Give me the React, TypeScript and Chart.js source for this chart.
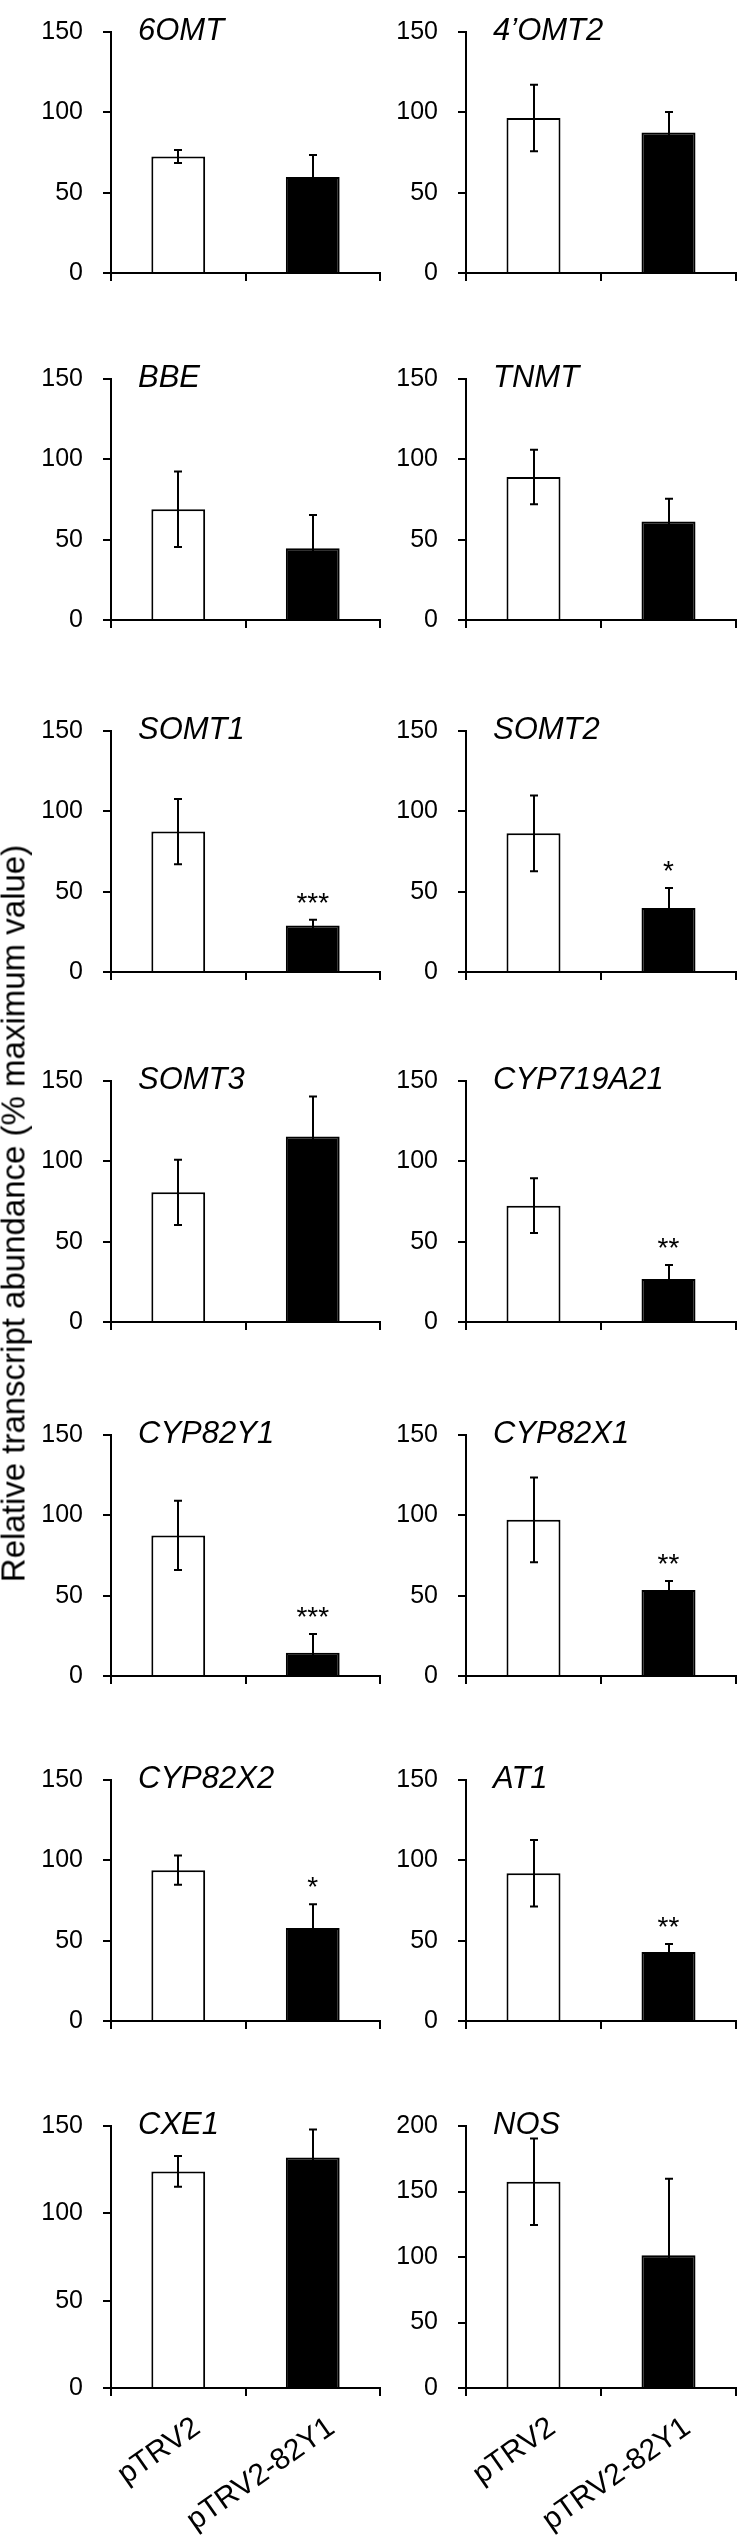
import React, { useEffect, useRef } from 'react';
import { Chart, registerables } from 'chart.js';

Chart.register(...registerables);

// ---- data ----
const genes = ['6OMT', '4\u2019OMT2', 'BBE', 'TNMT', 'SOMT1', 'SOMT2', 'SOMT3', 'CYP719A21', 'CYP82Y1', 'CYP82X1', 'CYP82X2', 'AT1', 'CXE1', 'NOS'];
const treatments = ['pTRV2', 'pTRV2-82Y1'];
const controlMeans = [72.5, 96.5, 69, 89, 87.4, 86.3, 80.7, 72.4, 87.5, 97.2, 93.9, 92, 124, 157.4];
const controlErrors = [4, 20.7, 23.5, 17, 20.3, 23.6, 20.3, 17, 21.6, 26.4, 9.1, 20.7, 8.8, 33];
const silencedMeans = [59.8, 87.5, 44.7, 61.3, 28.9, 39.9, 115.5, 26.7, 14.5, 53.5, 57.9, 43, 132, 101.3];
const silencedErrors = [13.6, 12.7, 20.7, 14.2, 3.6, 12.4, 24.9, 8.7, 11.7, 5.6, 14.8, 5, 16, 58.5];
const significance = ['', '', '', '', '***', '*', '', '**', '***', '**', '*', '**', '', ''];
const axisMax = [150, 150, 150, 150, 150, 150, 150, 150, 150, 150, 150, 150, 150, 200];
const axisStep = 50;
const yAxisTitle = 'Relative transcript abundance (% maximum value)';

// ---- layout ----
const FONT = '"Liberation Sans", Arial, Helvetica, sans-serif';
const PAGE_W = 742;
const PAGE_H = 2546;
const ROW_TOPS = [17, 364, 716, 1066, 1420, 1765, 2111];
const PLOT_H = 277;
const PAD_TOP = 20;
const COLS = [
  { left: 0, width: 390, yAxisW: 111, padRight: 10 },
  { left: 390, width: 352, yAxisW: 76, padRight: 6 },
];

function Panel({ index }: { index: number }) {
  const ref = useRef<HTMLCanvasElement>(null);
  const row = Math.floor(index / 2);
  const col = COLS[index % 2];
  const last = row === ROW_TOPS.length - 1;
  const xH = last ? PAGE_H - (ROW_TOPS[row] + PLOT_H) : 14;
  const H = PAD_TOP + PLOT_H + xH;
  const top = ROW_TOPS[row] - PAD_TOP;

  useEffect(() => {
    if (!ref.current) return;
    const extras = {
      id: 'panelExtras',
      afterDatasetsDraw(chart: any) {
        const ctx = chart.ctx;
        const meta = chart.getDatasetMeta(0);
        const y = chart.scales.y;
        const means = [controlMeans[index], silencedMeans[index]];
        const errs = [controlErrors[index], silencedErrors[index]];
        ctx.save();
        ctx.strokeStyle = '#000';
        ctx.lineWidth = 2;
        meta.data.forEach((bar: any, k: number) => {
          const x = Math.round(bar.x);
          const t = y.getPixelForValue(means[k] + errs[k]);
          const b = y.getPixelForValue(means[k] - errs[k]);
          ctx.beginPath();
          ctx.moveTo(x, t);
          ctx.lineTo(x, b);
          ctx.moveTo(x - 4, t);
          ctx.lineTo(x + 4, t);
          ctx.moveTo(x - 4, b);
          ctx.lineTo(x + 4, b);
          ctx.stroke();
        });
        const sig = significance[index];
        if (sig) {
          const bar = meta.data[1];
          const t = y.getPixelForValue(means[1] + errs[1]);
          ctx.fillStyle = '#000';
          ctx.font = `28px ${FONT}`;
          ctx.textAlign = 'center';
          ctx.textBaseline = 'alphabetic';
          ctx.fillText(sig, bar.x, t - 8);
        }
        ctx.fillStyle = '#000';
        ctx.font = `italic 31px ${FONT}`;
        ctx.textAlign = 'left';
        ctx.textBaseline = 'alphabetic';
        ctx.fillText(genes[index], chart.chartArea.left + 27, chart.chartArea.top + 8);
        ctx.restore();
      },
    };
    const chart = new Chart(ref.current, {
      type: 'bar',
      data: {
        labels: treatments,
        datasets: [
          {
            data: [controlMeans[index], silencedMeans[index]],
            backgroundColor: ['#ffffff', '#000000'],
            borderColor: '#000000',
            borderWidth: 2,
            barPercentage: 0.4,
            categoryPercentage: 1,
          },
        ],
      },
      options: {
        responsive: false,
        animation: false,
        devicePixelRatio: 1,
        layout: { padding: { top: PAD_TOP, right: col.padRight, left: 0, bottom: 0 } },
        plugins: { legend: { display: false }, tooltip: { enabled: false }, title: { display: false } },
        scales: {
          x: {
            afterFit: (s: any) => {
              s.height = xH;
            },
            border: { display: true, color: '#000', width: 2 },
            grid: { display: true, drawOnChartArea: false, drawTicks: true, tickLength: 8, color: '#000', lineWidth: 2, offset: true },
            ticks: {
              display: last,
              autoSkip: false,
              minRotation: 35,
              maxRotation: 35,
              labelOffset: 19,
              padding: 14,
              color: '#000',
              font: { family: FONT, size: 30 },
            },
          },
          y: {
            min: 0,
            max: axisMax[index],
            afterFit: (s: any) => {
              s.width = col.yAxisW;
            },
            border: { display: true, color: '#000', width: 2 },
            grid: { display: true, drawOnChartArea: false, drawTicks: true, tickLength: 8, color: '#000', lineWidth: 2 },
            ticks: {
              stepSize: axisStep,
              padding: 20,
              color: '#000',
              font: { family: FONT, size: 25 },
            },
          },
        },
      },
      plugins: [extras],
    });
    return () => chart.destroy();
  }, [index]);

  return (
    <canvas
      ref={ref}
      width={col.width}
      height={H}
      style={{ position: 'absolute', left: col.left, top, width: col.width, height: H }}
    />
  );
}

export default function App() {
  return (
    <div style={{ position: 'absolute', left: 0, top: 0, width: PAGE_W, height: PAGE_H, background: '#fff', overflow: 'hidden' }}>
      {genes.map((g, i) => (
        <Panel key={g} index={i} />
      ))}
      <div
        style={{
          position: 'absolute',
          left: 12.5 - 450,
          top: 1213 - 16.5,
          width: 900,
          height: 33,
          lineHeight: '33px',
          textAlign: 'center',
          fontFamily: FONT,
          fontSize: 33,
          color: '#000',
          whiteSpace: 'nowrap',
          transform: 'rotate(-90deg)',
          transformOrigin: '50% 50%',
        }}
      >
        {yAxisTitle}
      </div>
    </div>
  );
}
